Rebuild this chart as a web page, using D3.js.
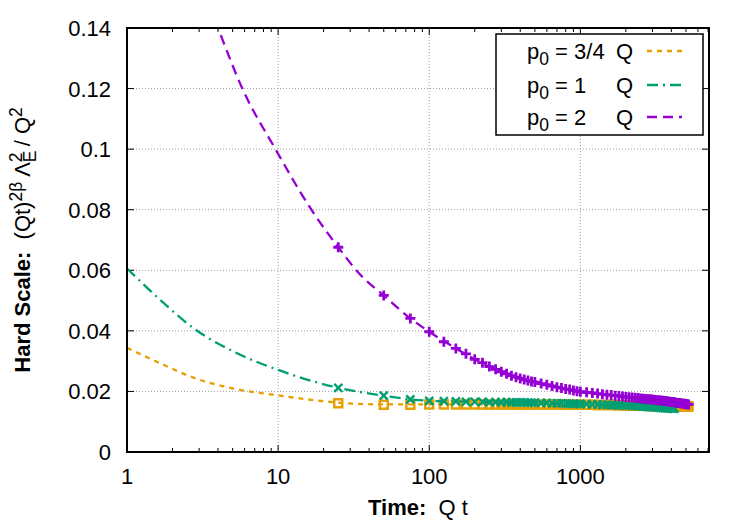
<!DOCTYPE html>
<html>
<head>
<meta charset="utf-8">
<script src="https://cdn.jsdelivr.net/npm/d3@7"></script>
<style>
  body { margin: 0; background: #fff; }
  text { font-family: "Liberation Sans", Arial, sans-serif; fill: #000; white-space: pre; }
</style>
</head>
<body>
<div id="wrapper"></div>
<script>
// Eixos
const xTicks = [1, 10, 100, 1000];
const xTickLabels = ["1", "10", "100", "1000"];
const yTicks = [0, 0.02, 0.04, 0.06, 0.08, 0.1, 0.12, 0.14];
const yTickLabels = ["0", "0.02", "0.04", "0.06", "0.08", "0.1", "0.12", "0.14"];

// Legenda
const seriesLabels = ["3/4", "1", "2"];
const seriesColors = ["#e69f00", "#009e73", "#9400d3"];

// Curvas ajustadas (linhas)
const fitTimes34 = [1, 1.66, 2.77, 5.1, 10, 25, 50, 100, 200, 500, 1000, 2000, 3000, 5200];
const fitValues34 = [0.0344, 0.0293, 0.0245, 0.0209, 0.0187, 0.0163, 0.0157, 0.0157, 0.0157, 0.0157, 0.0156, 0.0154, 0.0152, 0.0149];
const fitTimes1 = [1, 1.66, 2.77, 5.1, 10, 25, 50, 75, 100, 150, 200, 300, 500, 1000, 2000, 3000, 4300];
const fitValues1 = [0.0606, 0.0502, 0.0408, 0.0331, 0.0271, 0.0212, 0.0186, 0.0174, 0.0169, 0.0167, 0.0166, 0.0165, 0.0163, 0.0159, 0.0153, 0.0148, 0.0143];
const fitTimes2 = [3.5, 4, 5.8, 9.6, 16.6, 25, 35, 50, 75, 100, 150, 200, 300, 500, 750, 1000, 2000, 3400, 5000];
const fitValues2 = [0.1475, 0.140, 0.120, 0.100, 0.080, 0.0676, 0.0585, 0.0517, 0.0441, 0.0397, 0.0342, 0.0306, 0.0265, 0.0232, 0.0210, 0.0199, 0.0182, 0.0170, 0.0157];

// Pontos simulados (marcadores)
const markTimes = [
  25, 50, 75, 100, 125, 150, 175, 200, 225, 250, 275, 300, 325, 350, 375, 400, 425, 450, 475, 500,
  550, 600, 650, 700, 750, 800, 850, 900, 950, 1000,
  1100, 1200, 1300, 1400, 1500, 1600, 1700, 1800, 1900, 2000,
  2100, 2200, 2300, 2400, 2500, 2600, 2700, 2800, 2900, 3000,
  3100, 3200, 3300, 3400, 3500, 3600, 3700, 3800, 3900, 4000,
  4100, 4200, 4300, 4400, 4500, 4600, 4700, 4800, 4900, 5000, 5100, 5200];
const markValues34 = [
  0.0161, 0.0156, 0.0156, 0.0157, 0.0157, 0.0157, 0.0157, 0.0157, 0.0157, 0.0157, 0.0157, 0.0157, 0.0157, 0.0157, 0.0157, 0.0157, 0.0157, 0.0157, 0.0157, 0.0157,
  0.0157, 0.0157, 0.0157, 0.0157, 0.0157, 0.0156, 0.0156, 0.0156, 0.0156, 0.0156,
  0.0156, 0.0156, 0.0155, 0.0155, 0.0155, 0.0155, 0.0155, 0.0154, 0.0154, 0.0154,
  0.0154, 0.0154, 0.0153, 0.0153, 0.0153, 0.0153, 0.0153, 0.0153, 0.0152, 0.0152,
  0.0152, 0.0152, 0.0152, 0.0152, 0.0151, 0.0151, 0.0151, 0.0151, 0.0151, 0.0151,
  0.0151, 0.0151, 0.0150, 0.0150, 0.0150, 0.0150, 0.0150, 0.0150, 0.0150, 0.0150, 0.0150, 0.0150];
const markValues1 = [
  0.0212, 0.0186, 0.0174, 0.0169, 0.0168, 0.0167, 0.0166, 0.0166, 0.0166, 0.0165, 0.0165, 0.0165, 0.0165, 0.0164, 0.0164, 0.0164, 0.0164, 0.0163, 0.0163, 0.0163,
  0.0162, 0.0162, 0.0161, 0.0161, 0.0161, 0.0160, 0.0160, 0.0159, 0.0159, 0.0159,
  0.0158, 0.0157, 0.0157, 0.0156, 0.0156, 0.0155, 0.0155, 0.0154, 0.0154, 0.0153,
  0.0153, 0.0152, 0.0152, 0.0151, 0.0151, 0.0150, 0.0150, 0.0149, 0.0149, 0.0148,
  0.0148, 0.0147, 0.0147, 0.0146, 0.0146, 0.0145, 0.0145, 0.0145, 0.0144, 0.0144,
  0.0143, 0.0143];
const markValues2 = [
  0.0676, 0.0517, 0.0441, 0.0397, 0.0364, 0.0342, 0.0324, 0.0306, 0.0295, 0.0282, 0.0273, 0.0265, 0.0258, 0.0252, 0.0247, 0.0243, 0.0239, 0.0236, 0.0233, 0.0231,
  0.0226, 0.0222, 0.0218, 0.0214, 0.0211, 0.0208, 0.0206, 0.0203, 0.0201, 0.0199,
  0.0197, 0.0195, 0.0193, 0.0191, 0.0189, 0.0188, 0.0186, 0.0185, 0.0183, 0.0182,
  0.0181, 0.0180, 0.0179, 0.0178, 0.0177, 0.0176, 0.0175, 0.0174, 0.0174, 0.0173,
  0.0172, 0.0171, 0.0171, 0.0170, 0.0169, 0.0168, 0.0168, 0.0167, 0.0166, 0.0165,
  0.0165, 0.0164, 0.0163, 0.0162, 0.0162, 0.0161, 0.0160, 0.0159, 0.0159, 0.0158, 0.0158, 0.0157];

const FONT = 22;
const SUB = 17.5;

/**
 * Posiciona um texto (opcionalmente girado)
 */
const place = (sel, px, py, rotated) => sel.attr("transform",
  "translate(" + px + "," + py + ")" + (rotated ? " rotate(-90)" : ""));

function draw() {
  const dimensions = {
    width: 750,
    height: 525,
    margin: { top: 28, right: 41, bottom: 73, left: 127 }
  };
  const left = dimensions.margin.left;
  const right = dimensions.width - dimensions.margin.right;
  const top = dimensions.margin.top;
  const bottom = dimensions.height - dimensions.margin.bottom;

  const svg = d3.select("#wrapper")
    .append("svg")
    .attr("width", dimensions.width)
    .attr("height", dimensions.height);

  // Escalas
  const x = d3.scaleLog().domain([1, 7100]).range([left, right]);
  const y = d3.scaleLinear().domain([0, 0.14]).range([bottom, top]);

  svg.append("clipPath").attr("id", "plot")
    .append("rect").attr("x", left).attr("y", top)
    .attr("width", right - left).attr("height", bottom - top);

  // Grade
  const grid = svg.append("g")
    .attr("stroke", "#a0a0a0").attr("stroke-width", 1).attr("stroke-dasharray", "1,2");
  grid.selectAll(".gx").data(xTicks.slice(1)).enter().append("line")
    .attr("x1", d => x(d)).attr("x2", d => x(d)).attr("y1", top).attr("y2", bottom);
  grid.selectAll(".gy").data(yTicks.slice(1, -1)).enter().append("line")
    .attr("x1", left).attr("x2", right).attr("y1", d => y(d)).attr("y2", d => y(d));

  // Marcas dos eixos (espelhadas)
  const minorX = [];
  [1, 10, 100, 1000].forEach(dec => {
    for (let k = 2; k <= 9; k++) if (dec * k < 7100) minorX.push(dec * k);
  });
  const ticks = svg.append("g").attr("stroke", "#000").attr("stroke-width", 1);
  ticks.selectAll(".mx").data(xTicks).enter().append("path")
    .attr("d", d => "M" + x(d) + "," + bottom + "v-7M" + x(d) + "," + top + "v7");
  ticks.selectAll(".nx").data(minorX).enter().append("path")
    .attr("d", d => "M" + x(d) + "," + bottom + "v-4M" + x(d) + "," + top + "v4");
  ticks.selectAll(".my").data(yTicks).enter().append("path")
    .attr("d", d => "M" + left + "," + y(d) + "h7M" + right + "," + y(d) + "h-7");

  // Rótulos das marcas
  svg.append("g").selectAll("text").data(xTicks).enter().append("text")
    .attr("text-anchor", "middle").style("font-size", FONT + "px")
    .each(function (d) { place(d3.select(this), x(d), bottom + 32, false); })
    .text((d, i) => xTickLabels[i]);
  svg.append("g").selectAll("text").data(yTicks).enter().append("text")
    .attr("text-anchor", "end").style("font-size", FONT + "px")
    .each(function (d) { place(d3.select(this), left - 16, y(d) + 8, false); })
    .text((d, i) => yTickLabels[i]);

  // Séries
  const series = [
    { times: fitTimes34, values: fitValues34, mv: markValues34, dash: "5,5", shape: "square" },
    { times: fitTimes1, values: fitValues1, mv: markValues1, dash: "11,5,2,5", shape: "cross" },
    { times: fitTimes2, values: fitValues2, mv: markValues2, dash: "10,6", shape: "plus" }
  ];
  const line = d3.line().x(d => x(d[0])).y(d => y(d[1])).curve(d3.curveMonotoneX);
  const symbol = (shape) => {
    if (shape === "square") return "M-4,-4h8v8h-8z";
    if (shape === "cross") return "M-4,-4L4,4M-4,4L4,-4";
    return "M-5,0H5M0,-5V5";
  };
  const plot = svg.append("g").attr("clip-path", "url(#plot)");
  series.forEach((s, i) => {
    plot.append("path")
      .attr("d", line(s.times.map((t, j) => [t, s.values[j]])))
      .attr("fill", "none")
      .attr("stroke", seriesColors[i])
      .attr("stroke-width", 2.3)
      .attr("stroke-dasharray", s.dash);
    plot.append("g").selectAll("path")
      .data(s.mv.map((v, j) => [markTimes[j], v]))
      .enter().append("path")
      .attr("transform", d => "translate(" + x(d[0]) + "," + y(d[1]) + ")")
      .attr("d", symbol(s.shape))
      .attr("fill", "none")
      .attr("stroke", seriesColors[i])
      .attr("stroke-width", s.shape === "plus" ? 2.8 : 2.4);
  });

  // Moldura
  svg.append("rect")
    .attr("x", left).attr("y", top)
    .attr("width", right - left).attr("height", bottom - top)
    .attr("fill", "none").attr("stroke", "#000").attr("stroke-width", 2);

  // Legenda
  const key = svg.append("g");
  key.append("rect")
    .attr("x", 496).attr("y", 34).attr("width", 207).attr("height", 101)
    .attr("fill", "#fff").attr("stroke", "#000").attr("stroke-width", 1.5);
  const rows = [51, 85, 117];
  seriesLabels.forEach((lab, i) => {
    const t = key.append("text").style("font-size", FONT + "px");
    place(t, 527, rows[i] + 8, false);
    t.append("tspan").text("p");
    t.append("tspan").attr("dy", 6).style("font-size", SUB + "px").text("0");
    t.append("tspan").attr("dy", -6).text(" = " + lab);
    const q = key.append("text").style("font-size", FONT + "px");
    place(q, 616, rows[i] + 8, false);
    q.text("Q");
    key.append("line")
      .attr("x1", 647).attr("x2", 682).attr("y1", rows[i]).attr("y2", rows[i])
      .attr("stroke", seriesColors[i]).attr("stroke-width", 2.3)
      .attr("stroke-dasharray", series[i].dash);
  });

  // Títulos dos eixos
  const xl = svg.append("text").attr("text-anchor", "middle").style("font-size", FONT + "px");
  place(xl, (left + right) / 2, 515, false);
  xl.append("tspan").attr("font-weight", "bold").text("Time:");
  xl.append("tspan").text("  Q t");

  const yl = svg.append("text").attr("text-anchor", "middle").style("font-size", FONT + "px");
  place(yl, 30, (top + bottom) / 2, true);
  yl.append("tspan").attr("font-weight", "bold").text("Hard Scale:");
  yl.append("tspan").text("  (Qt)");
  yl.append("tspan").attr("dy", -8).style("font-size", SUB + "px").text("2\u03b2");
  yl.append("tspan").attr("dy", 8).text(" \u039b");
  yl.append("tspan").attr("dy", 6).style("font-size", SUB + "px").text("E");
  yl.append("tspan").attr("dx", -11.7).attr("dy", -14).style("font-size", SUB + "px").text("2");
  yl.append("tspan").attr("dy", 8).text(" / Q");
  yl.append("tspan").attr("dy", -8).style("font-size", SUB + "px").text("2");
}
draw();
</script>
</body>
</html>
